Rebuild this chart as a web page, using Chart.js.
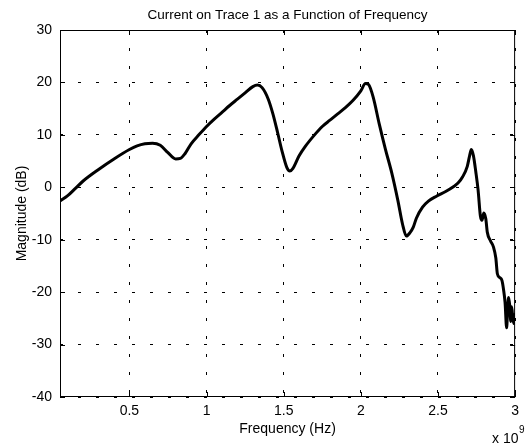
<!DOCTYPE html>
<html>
<head>
<meta charset="utf-8">
<script src="https://cdn.jsdelivr.net/npm/chart.js@4/dist/chart.umd.min.js"></script>
<style>
  html, body { margin: 0; padding: 0; background: #fff; }
  #wrap { width: 525px; height: 446px; }
</style>
</head>
<body>
<div id="wrap"><canvas id="c" width="525" height="446"></canvas></div>
<script>
// ---- data (frequency in Hz, magnitude in dB) ----
const freqGHz = [
  0.05, 0.10, 0.15, 0.20, 0.30, 0.40, 0.50, 0.55, 0.60, 0.65,
  0.70, 0.75, 0.80, 0.83, 0.86, 0.90, 0.95, 1.00, 1.05, 1.10,
  1.15, 1.20, 1.25, 1.30, 1.33, 1.36, 1.40, 1.43, 1.46, 1.49,
  1.52, 1.54, 1.56, 1.60, 1.64, 1.70, 1.75, 1.80, 1.85, 1.90,
  1.95, 2.00, 2.03, 2.05, 2.08, 2.12, 2.16, 2.20, 2.24, 2.27,
  2.295, 2.32, 2.34, 2.36, 2.40, 2.44, 2.49, 2.55, 2.60, 2.63,
  2.66, 2.69, 2.705, 2.716, 2.73, 2.745, 2.76, 2.775, 2.785, 2.797,
  2.81, 2.82, 2.84, 2.86, 2.875, 2.885, 2.90, 2.915, 2.925, 2.935,
  2.945, 2.952, 2.958, 2.965, 2.972, 2.978, 2.985, 2.992, 3.0
];
const magnitudeDb = [
  -2.6, -1.6, -0.2, 1.2, 3.4, 5.4, 7.2, 7.9, 8.3, 8.4,
  8.0, 6.6, 5.4, 5.5, 6.4, 8.3, 10.0, 11.6, 13.0, 14.3,
  15.6, 16.8, 18.0, 19.2, 19.5, 19.0, 16.8, 14.0, 10.5, 6.8,
  3.8, 3.1, 3.6, 6.0, 7.8, 10.0, 11.6, 12.8, 14.0, 15.2,
  16.6, 18.4, 19.8, 19.6, 17.2, 12.0, 7.2, 2.8, -2.5, -7.0,
  -9.3, -8.6, -7.6, -5.9, -3.8, -2.6, -1.7, -0.8, 0.1, 0.8,
  2.0, 4.0, 6.0, 7.2, 6.0, 3.0, -0.5, -5.5, -6.3, -4.9,
  -6.0, -8.6, -10.2, -11.4, -13.5, -16.5, -17.2, -17.8, -19.5, -22.0,
  -26.8, -23.0, -21.0, -22.5, -25.6, -22.8, -25.0, -26.0, -24.2
];
const xTickValuesGHz = [0.5, 1, 1.5, 2, 2.5, 3];
const yTickValues = [-40, -30, -20, -10, 0, 10, 20, 30];
const xRangeGHz = [0.05, 3.0];
const yRange = [-40, 30];
const titleText = 'Current on Trace 1 as a Function of Frequency';
const xLabel = 'Frequency (Hz)';
const yLabel = 'Magnitude (dB)';
const exponentBase = 'x 10';
const exponentPower = '9';

const FONT = '"Liberation Sans", Arial, Helvetica, sans-serif';
const points = freqGHz.map((f, i) => ({ x: f * 1e9, y: magnitudeDb[i] }));

const framePlugin = {
  id: 'frameTicks',
  afterDatasetsDraw(chart) {
    const { ctx, chartArea: a, scales } = chart;
    ctx.save();
    ctx.strokeStyle = '#000';
    ctx.lineWidth = 1;
    ctx.setLineDash([]);
    ctx.strokeRect(a.left + 0.5, a.top + 0.5, a.right - a.left - 1, a.bottom - a.top - 1);
    const L = 5;
    ctx.beginPath();
    scales.x.ticks.forEach(t => {
      const px = Math.round(scales.x.getPixelForValue(t.value)) + 0.5;
      ctx.moveTo(px, a.bottom); ctx.lineTo(px, a.bottom - L);
      ctx.moveTo(px, a.top); ctx.lineTo(px, a.top + L);
    });
    scales.y.ticks.forEach(t => {
      const py = Math.round(scales.y.getPixelForValue(t.value)) + 0.5;
      ctx.moveTo(a.left, py); ctx.lineTo(a.left + L, py);
      ctx.moveTo(a.right, py); ctx.lineTo(a.right - L, py);
    });
    ctx.stroke();
    // exponent label
    ctx.fillStyle = '#000';
    ctx.textBaseline = 'alphabetic';
    ctx.textAlign = 'left';
    ctx.font = '14px ' + FONT;
    ctx.fillText(exponentBase, 492, 443);
    const w = ctx.measureText(exponentBase).width;
    ctx.font = '10px ' + FONT;
    ctx.fillText(exponentPower, 492 + w + 0.5, 433);
    ctx.restore();
  }
};

new Chart(document.getElementById('c'), {
  type: 'line',
  data: {
    datasets: [{
      data: points,
      borderColor: '#000',
      borderWidth: 3,
      pointRadius: 0,
      cubicInterpolationMode: 'monotone',
      borderJoinStyle: 'round',
      borderCapStyle: 'round',
      fill: false
    }]
  },
  options: {
    responsive: false,
    animation: false,
    devicePixelRatio: 1,
    layout: { padding: { left: 0, right: 2, top: 0, bottom: 0 } },
    plugins: {
      legend: { display: false },
      tooltip: { enabled: false },
      title: {
        display: true,
        text: titleText,
        fullSize: false,
        color: '#000',
        font: { family: FONT, size: 13.5, weight: 'normal', lineHeight: 1.2 },
        padding: { top: 6.9, bottom: 6.9 }
      }
    },
    scales: {
      x: {
        type: 'linear',
        min: xRangeGHz[0] * 1e9,
        max: xRangeGHz[1] * 1e9,
        afterBuildTicks: s => { s.ticks = xTickValuesGHz.map(v => ({ value: v * 1e9 })); },
        afterFit: s => { s.height = 49; },
        grid: { color: '#000', lineWidth: 1, drawTicks: false },
        border: { display: false, dash: [3, 15] },
        ticks: {
          color: '#000', padding: 6, maxRotation: 0, autoSkip: false,
          font: { family: FONT, size: 14 },
          callback: v => String(Math.round(v / 1e8) / 10)
        },
        title: {
          display: true, text: xLabel, color: '#000',
          font: { family: FONT, size: 14, lineHeight: 1.2 },
          padding: { top: 0, bottom: 8.6 }
        }
      },
      y: {
        type: 'linear',
        min: yRange[0],
        max: yRange[1],
        afterBuildTicks: s => { s.ticks = yTickValues.map(v => ({ value: v })); },
        afterFit: s => { s.width = 60; },
        grid: { color: '#000', lineWidth: 1, drawTicks: false },
        border: { display: false, dash: [3, 15] },
        ticks: {
          color: '#000', padding: 8, autoSkip: false,
          font: { family: FONT, size: 14 },
          callback: v => String(v)
        },
        title: {
          display: true, text: yLabel, color: '#000',
          font: { family: FONT, size: 14, lineHeight: 1.2 },
          padding: { top: 13.6, bottom: 0 }
        }
      }
    }
  },
  plugins: [framePlugin]
});
</script>
</body>
</html>
